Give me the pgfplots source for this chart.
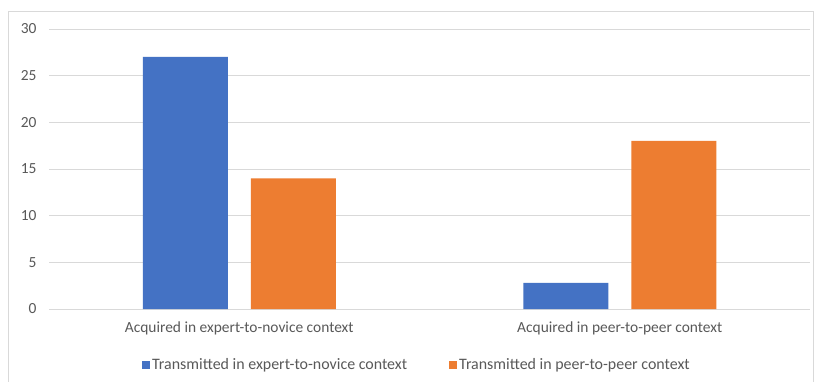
\documentclass[border=0pt]{standalone}
\usepackage{pgfplots}
\pgfplotsset{compat=1.18}
\usepackage{fontspec}
\setmainfont{Carlito}
\definecolor{xblue}{HTML}{4472C4}
\definecolor{xorange}{HTML}{ED7D31}
\definecolor{xgrid}{HTML}{D9D9D9}
\definecolor{xtext}{HTML}{595959}
\begin{document}
\begin{tikzpicture}[x=1bp,y=1bp]
\useasboundingbox (0,0) rectangle (814,381);
\fill[white] (0,0) rectangle (814,381);
\draw[xgrid, line width=0.8bp] (8,-5) rectangle (813,370);
\begin{axis}[
  at={(49bp,72bp)}, anchor=south west,
  scale only axis, width=761bp, height=280bp,
  ybar=23bp, bar width=85bp,
  xmin=-0.5, xmax=1.5, ymin=0, ymax=30,
  ytick={0,5,...,30},
  xtick={0,1},
  xticklabels={Acquired in expert-to-novice context, Acquired in peer-to-peer context},
  axis line style={draw=none},
  axis x line*=bottom, axis y line*=left,
  x axis line style={draw=xgrid},
  ymajorgrids, grid style={xgrid, line width=0.8bp},
  major tick length=0pt,
  tick label style={font=\fontsize{15.5}{17}\selectfont, text=xtext},
  /pgf/number format/assume math mode=true,
  yticklabel style={xshift=-9bp},
  xticklabel style={yshift=-9bp},
  legend style={at={(368bp,-56bp)}, anchor=center, draw=none, legend columns=2,
    font=\fontsize{16}{18}\selectfont, text=xtext,
    /tikz/every even column/.append style={column sep=40bp}},
  legend image code/.code={\fill[#1] (0bp,-3.5bp) rectangle (8bp,4.5bp);},
]
\addplot[fill=xblue, draw=none] coordinates {(0,27) (1,2.8)};
\addplot[fill=xorange, draw=none] coordinates {(0,14) (1,18)};
\legend{Transmitted in expert-to-novice context, Transmitted in peer-to-peer context}
\end{axis}
\end{tikzpicture}
\end{document}
